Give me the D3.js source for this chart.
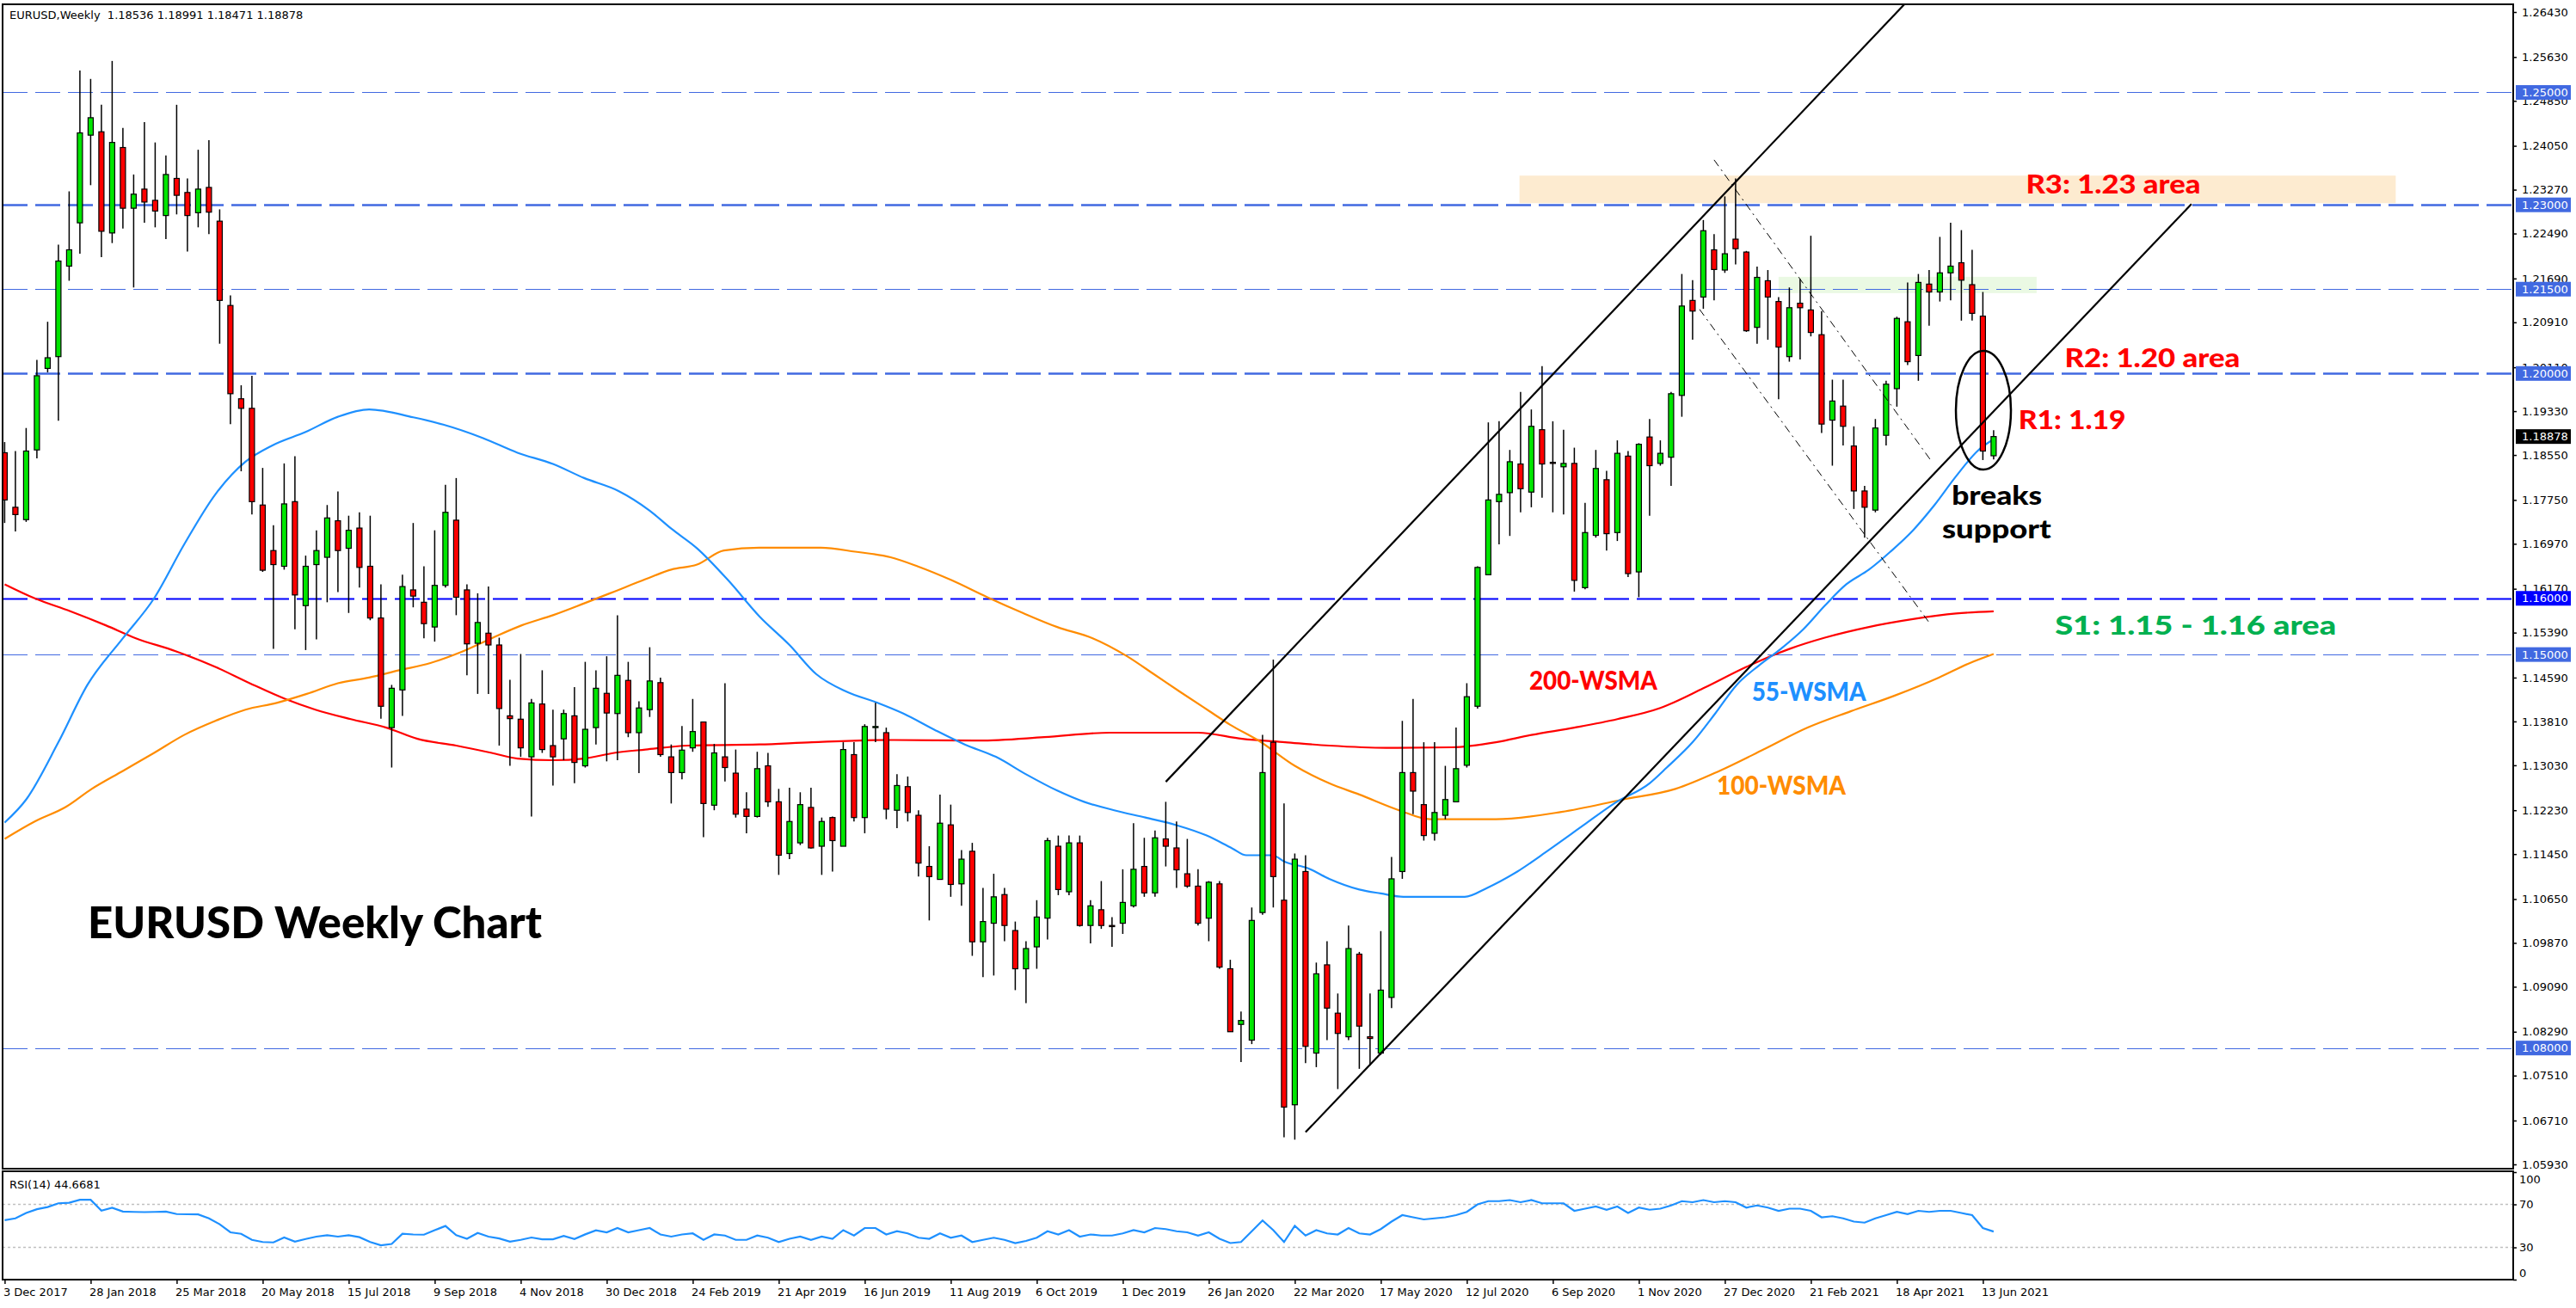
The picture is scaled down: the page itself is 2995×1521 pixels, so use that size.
<!DOCTYPE html>
<html><head><meta charset="utf-8">
<script src="https://cdn.jsdelivr.net/npm/d3@7"></script>
<style>html,body{margin:0;padding:0;background:#fff}svg{display:block}</style>
</head><body>
<svg id="c" width="2995" height="1521"></svg>
<script>
// ---------- DATA ----------
const xLabels = ["3 Dec 2017","28 Jan 2018","25 Mar 2018","20 May 2018","15 Jul 2018","9 Sep 2018","4 Nov 2018","30 Dec 2018","24 Feb 2019","21 Apr 2019","16 Jun 2019","11 Aug 2019","6 Oct 2019","1 Dec 2019","26 Jan 2020","22 Mar 2020","17 May 2020","12 Jul 2020","6 Sep 2020","1 Nov 2020","27 Dec 2020","21 Feb 2021","18 Apr 2021","13 Jun 2021"];
const yTicks = [1.2643,1.2563,1.2485,1.2405,1.2327,1.2249,1.2169,1.2091,1.2011,1.1933,1.1855,1.1775,1.1697,1.1617,1.1539,1.1459,1.1381,1.1303,1.1223,1.1145,1.1065,1.0987,1.0909,1.0829,1.0751,1.0671,1.0593];
const rsiTicks = [100,70,30,0];

const open = [1.1859,1.1762,1.1740,1.1864,1.2009,1.2030,1.2191,1.2268,1.2424,1.2430,1.2250,1.2402,1.2294,1.2328,1.2308,1.2281,1.2347,1.2322,1.2286,1.2331,
1.2271,1.2121,1.1955,1.1938,1.1766,1.1685,1.1657,1.1772,1.1587,1.1660,1.1673,1.1738,1.1689,1.1725,1.1657,1.1565,1.1370,1.1437,1.1615,1.1593,
1.1549,1.1623,1.1739,1.1615,1.1520,1.1538,1.1517,1.1391,1.1385,1.1318,1.1412,1.1338,1.1350,1.1391,1.1302,1.1370,1.1431,1.1395,1.1454,1.1361,
1.1402,1.1450,1.1318,1.1290,1.1334,1.1380,1.1232,1.1318,1.1289,1.1225,1.1212,1.1302,1.1238,1.1146,1.1165,1.1228,1.1159,1.1210,1.1159,1.1322,
1.1210,1.1370,1.1361,1.1223,1.1265,1.1214,1.1123,1.1100,1.1197,1.1092,1.1150,1.0989,1.1022,1.1073,1.1009,1.0941,1.0980,1.1031,1.1159,1.1078,
1.1165,1.1018,1.1046,1.1018,1.1022,1.1053,1.1123,1.1076,1.1172,1.1156,1.1110,1.1088,1.1031,1.1092,1.0941,1.0842,1.0814,1.1041,1.1344,1.1063,
1.0699,1.1114,1.0791,1.0948,1.0862,1.0820,1.0967,1.0820,1.0791,1.0890,1.1114,1.1290,1.1233,1.1182,1.1214,1.1238,1.1303,1.1408,1.1642,1.1772,
1.1788,1.1839,1.1789,1.1900,1.1842,1.1834,1.1840,1.1619,1.1712,1.1811,1.1717,1.1853,1.1647,1.1887,1.1840,1.1851,1.1961,1.2130,1.2136,1.2220,
1.2184,1.2239,1.2216,1.2082,1.2165,1.2128,1.2030,1.2125,1.2113,1.2069,1.1917,1.1942,1.1871,1.1791,1.1757,1.1890,1.1973,1.2092,1.2032,1.2159,
1.2145,1.2179,1.2197,1.2158,1.2102,1.18536];
const high = [1.1878,1.1862,1.1903,1.2024,1.2092,1.2229,1.2324,1.2539,1.2524,1.2478,1.2556,1.2437,1.2354,1.2447,1.2411,1.2388,1.2478,1.2347,1.2398,1.2415,
1.2292,1.2139,1.1979,1.1996,1.1832,1.1730,1.1840,1.1853,1.1676,1.1721,1.1766,1.1790,1.1747,1.1753,1.1747,1.1625,1.1446,1.1642,1.1734,1.1657,
1.1721,1.1802,1.1814,1.1625,1.1609,1.1621,1.1530,1.1455,1.1501,1.1421,1.1472,1.1402,1.1402,1.1442,1.1487,1.1472,1.1497,1.1570,1.1487,1.1417,
1.1513,1.1459,1.1340,1.1373,1.1421,1.1380,1.1341,1.1449,1.1331,1.1255,1.1327,1.1325,1.1261,1.1263,1.1255,1.1263,1.1210,1.1212,1.1344,1.1344,
1.1376,1.1414,1.1370,1.1287,1.1283,1.1223,1.1159,1.1251,1.1233,1.1152,1.1165,1.1085,1.1110,1.1085,1.1025,1.0990,1.1063,1.1174,1.1178,1.1178,
1.1178,1.1063,1.1097,1.1033,1.1118,1.1200,1.1174,1.1187,1.1238,1.1203,1.1172,1.1118,1.1097,1.1097,1.0957,1.0865,1.1050,1.1357,1.1491,1.1235,
1.1146,1.1143,1.0952,1.0990,1.0897,1.1018,1.0971,1.0897,1.1008,1.1140,1.1382,1.1421,1.1344,1.1344,1.1302,1.1370,1.1449,1.1657,1.1913,1.1915,
1.1864,1.1967,1.1936,1.2013,1.1915,1.1900,1.1868,1.1770,1.1864,1.1827,1.1881,1.1862,1.1876,1.1919,1.1881,1.1967,1.2177,1.2166,1.2273,1.2248,
1.2315,1.2347,1.2218,1.2190,1.2184,1.2136,1.2153,1.2168,1.2245,1.2111,1.1989,1.1989,1.1906,1.1800,1.1919,1.1987,1.2101,1.2162,1.2177,1.2184,
1.2243,1.2268,1.2255,1.2220,1.2145,1.18991];
const low = [1.1734,1.1719,1.1736,1.1849,1.2002,1.1916,1.2165,1.2213,1.2335,1.2207,1.2232,1.2258,1.2153,1.2268,1.2260,1.2239,1.2283,1.2217,1.2260,1.2248,
1.2053,1.1910,1.1826,1.1749,1.1647,1.1510,1.1651,1.1545,1.1508,1.1527,1.1593,1.1611,1.1574,1.1619,1.1561,1.1386,1.1299,1.1391,1.1584,1.1529,
1.1523,1.1619,1.1570,1.1463,1.1430,1.1430,1.1338,1.1302,1.1318,1.1212,1.1325,1.1267,1.1312,1.1271,1.1299,1.1340,1.1310,1.1312,1.1353,1.1289,
1.1389,1.1318,1.1235,1.1278,1.1327,1.1175,1.1223,1.1274,1.1210,1.1182,1.1210,1.1229,1.1108,1.1136,1.1161,1.1155,1.1108,1.1114,1.1159,1.1203,
1.1182,1.1344,1.1207,1.1191,1.1203,1.1105,1.1027,1.1100,1.1069,1.1053,1.0964,1.0926,1.0929,1.0990,1.0903,1.0880,1.0941,1.0993,1.1072,1.1072,
1.1016,1.0986,1.1012,1.0980,1.1003,1.1050,1.1069,1.1069,1.1123,1.1085,1.1085,1.1018,1.0990,1.0941,1.0829,1.0775,1.0807,1.1037,1.1050,1.0641,
1.0637,1.0773,1.0766,1.0814,1.0727,1.0814,1.0763,1.0769,1.0788,1.0871,1.1101,1.1216,1.1169,1.1169,1.1207,1.1238,1.1299,1.1404,1.1642,1.1696,
1.1711,1.1753,1.1762,1.1779,1.1753,1.1749,1.1612,1.1616,1.1708,1.1685,1.1702,1.1638,1.1602,1.1747,1.1836,1.1800,1.1923,1.2060,1.2115,1.2130,
1.2179,1.2194,1.2074,1.2053,1.2060,1.1954,1.2021,1.2025,1.2066,1.1894,1.1836,1.1872,1.1759,1.1708,1.1753,1.1872,1.1941,1.2015,1.1987,1.2085,
1.2128,1.2130,1.2094,1.2094,1.1846,1.18471];
const close = [1.1775,1.1749,1.1862,1.1996,1.2028,1.2200,1.2220,1.2428,1.2455,1.2253,1.2411,1.2294,1.2319,1.2305,1.2289,1.2354,1.2317,1.2281,1.2328,1.2287,
1.2130,1.1964,1.1938,1.1772,1.1650,1.1660,1.1768,1.1606,1.1657,1.1685,1.1743,1.1685,1.1721,1.1655,1.1565,1.1408,1.1440,1.1621,1.1604,1.1555,
1.1623,1.1753,1.1602,1.1519,1.1557,1.1517,1.1404,1.1386,1.1334,1.1414,1.1331,1.1318,1.1395,1.1308,1.1367,1.1440,1.1396,1.1463,1.1361,1.1405,
1.1453,1.1322,1.1290,1.1330,1.1363,1.1235,1.1325,1.1299,1.1216,1.1212,1.1297,1.1238,1.1143,1.1203,1.1233,1.1156,1.1203,1.1169,1.1331,1.1210,
1.1372,1.1372,1.1225,1.1267,1.1219,1.1129,1.1105,1.1200,1.1091,1.1136,1.0989,1.1025,1.1069,1.1018,1.0941,1.0977,1.1033,1.1169,1.1082,1.1165,
1.1018,1.1053,1.1018,1.1016,1.1059,1.1118,1.1076,1.1174,1.1159,1.1117,1.1088,1.1022,1.1095,1.0944,1.0829,1.0849,1.1027,1.1290,1.1105,1.0695,
1.1136,1.0803,1.0932,1.0871,1.0826,1.0977,1.0839,1.0817,1.0903,1.1101,1.1290,1.1257,1.1178,1.1219,1.1242,1.1297,1.1425,1.1655,1.1775,1.1785,
1.1843,1.1795,1.1906,1.1839,1.1840,1.1840,1.1632,1.1717,1.1831,1.1715,1.1858,1.1644,1.1874,1.1836,1.1858,1.1964,1.2120,1.2111,1.2254,1.2185,
1.2213,1.2222,1.2076,1.2171,1.2136,1.2047,1.2117,1.2117,1.2073,1.1910,1.1951,1.1906,1.1791,1.1762,1.1903,1.1981,1.2098,1.2021,1.2162,1.2145,
1.2179,1.2191,1.2166,1.2107,1.1862,1.18878];

// moving averages: [week index, value]
const ma55 = [[0,1.1201],[2,1.1242],[5,1.1344],[7.7,1.1446],[11,1.1529],[13.9,1.1600],[16.7,1.1696],[19.6,1.1785],[22.4,1.1843],[24.9,1.1872],[28,1.1896],[31,1.1923],[33.9,1.1936],[38,1.1922],[40.8,1.1909],[44.5,1.1885],[47.7,1.1859],[51,1.1839],[53.9,1.1814],[57.1,1.1791],[60,1.1756],[62,1.1724],[64.4,1.1689],[67.3,1.1632],[70.2,1.1568],[73,1.1517],[75.5,1.1465],[78.3,1.1434],[81.2,1.1414],[83.6,1.1395],[86.5,1.1366],[89.3,1.1340],[92.2,1.1318],[95,1.1287],[97.9,1.1258],[100.4,1.1238],[103.2,1.1223],[106.1,1.1210],[108.9,1.1197],[111.8,1.1178],[114.2,1.1155],[115.5,1.1143],[117.9,1.1143],[119.1,1.1131],[121.2,1.1120],[123.2,1.1101],[126,1.1082],[128,1.1075],[130.1,1.1069],[132.6,1.1069],[135.8,1.1069],[137.9,1.1085],[140.7,1.1114],[143.6,1.1152],[146.9,1.1197],[149.7,1.1235],[153,1.1271],[154.6,1.1299],[157,1.1344],[159.1,1.1395],[161.1,1.1446],[163.2,1.1481],[165.2,1.1510],[167.3,1.1545],[169.3,1.1587],[171.3,1.1625],[173.4,1.1651],[175.4,1.1683],[177.5,1.1721],[179.5,1.1766],[181.5,1.1817],[183.6,1.1864],[185,1.1883]];
const ma100 = [[0,1.1172],[2.8,1.1203],[5.7,1.1229],[8.1,1.1261],[11,1.1293],[13.9,1.1325],[16.7,1.1357],[19.6,1.1382],[22.4,1.1402],[25.3,1.1414],[28.1,1.1430],[31,1.1449],[33.9,1.1459],[36.7,1.1472],[39.6,1.1485],[42.4,1.1504],[45.3,1.1529],[48.1,1.1552],[51,1.1570],[53.9,1.1591],[56.7,1.1612],[59.6,1.1634],[62,1.1651],[64.4,1.1660],[66.9,1.1685],[70.2,1.1690],[75.9,1.1690],[79.1,1.1683],[82.4,1.1673],[84.9,1.1657],[88.1,1.1632],[91.4,1.1602],[94.7,1.1574],[97.9,1.1549],[101.2,1.1529],[104.4,1.1497],[106.9,1.1465],[109.3,1.1434],[112,1.1400],[114,1.1375],[116.7,1.1346],[120,1.1302],[123.2,1.1271],[126,1.1251],[129.7,1.1223],[132.6,1.1207],[138.7,1.1207],[144.8,1.1220],[150.5,1.1242],[155.4,1.1261],[159.5,1.1293],[163.6,1.1331],[167.7,1.1370],[171.7,1.1399],[175.8,1.1427],[179.9,1.1459],[182.8,1.1485],[185,1.1501]];
const ma200 = [[0,1.1625],[2.8,1.1600],[6.1,1.1577],[9.4,1.1552],[12.2,1.1529],[15.9,1.1506],[19.6,1.1478],[22.8,1.1449],[26.1,1.1421],[28.9,1.1402],[32.2,1.1385],[35.5,1.1370],[38.4,1.1350],[42,1.1338],[45.3,1.1325],[47.7,1.1315],[51,1.1312],[53.9,1.1315],[56.7,1.1325],[59.6,1.1331],[63.6,1.1338],[70.2,1.1340],[75.1,1.1344],[82.4,1.1348],[90.6,1.1347],[96.7,1.1353],[102.8,1.1361],[111,1.1361],[115.1,1.1350],[119.1,1.1344],[123.2,1.1338],[128.5,1.1334],[134.6,1.1335],[138.7,1.1344],[142,1.1357],[146,1.1370],[150,1.1385],[154,1.1405],[158,1.1440],[162,1.1478],[166,1.1510],[169.3,1.1530],[173.4,1.1549],[177.5,1.1563],[181.5,1.1573],[185,1.1577]];

const rsi = [55.3,57,62,65.5,67.5,71,71.5,74.3,74.3,64.1,66.8,63.3,63,62.8,63,63.3,61,60.8,60.7,57,
51.5,44,42.6,37,35,34.6,39.2,35.4,37.8,40,41.3,40,41.3,39.5,35,31.9,33.2,42.6,42,41.8,
46,49.9,41.3,38,43.4,40,38.3,35.4,37,39.2,37.5,37.5,40.7,37.8,42.1,45.9,44,48,44,46,
48,42,40,42,43,37,42,41,37,37,41,39,35,38,40,37,40,38,46,41,
48,48,42,45,43,39,38,43,39,41,35,37,39,37,34,36,39,45,42,46,
40,42,41,41,43,46,44,48,47,45,44,41,44,38,34,35,45,55,46,35,
50,41,46,43,42,48,43,42,47,54,60,58,56,57,58,60,63,70,73,73,
74,72,74,71,71,71,64,66,68,65,68,62,67,65,66,69,73,72,74,72,
73,72,67,69,67,64,66,66,64,58,59,57,54,53,57,60,63,61,64,63,
64,64,62,60,48,44.6681];

const levels = [1.25,1.23,1.215,1.20,1.16,1.15,1.08];
const lastPrice = 1.18878;
const header = "EURUSD,Weekly  1.18536 1.18991 1.18471 1.18878";

// annotation geometry in (week index, price)
const channelUpper = [[108.0,1.12736],[176.7,1.26568]];
const channelLower = [[121.0,1.06502],[203.4,1.23014]];
const dashUpper = [[159.0,1.2380],[179.25,1.1843]];
const dashLower = [[157.65,1.2114],[179.0,1.1557]];
const r3Zone = [140.9,222.4,1.2303,1.2352];
const greenZone = [165.0,189.0,1.2143,1.2172];
const circleAt = [184.05,1.19346];

// ---------- CHART ----------
const svg = d3.select("#c");
const L = 3, R = 2922, T = 5, B = 1359, RT = 1362, RB = 1488;
const x = d3.scaleLinear().domain([0,185]).range([5.4,2317.9]);
const y = d3.scaleLinear().domain([1.0593,1.2643]).range([1354,14]);
const yR = d3.scaleLinear().domain([0,100]).range([RB,RT+1]);
const FONT = "'DejaVu Sans', sans-serif";
const AFONT = "Lato, 'Open Sans', sans-serif";

const defs = svg.append("defs");
defs.append("clipPath").attr("id","mc").append("rect").attr("x",L).attr("y",T).attr("width",R-L).attr("height",B-T);
defs.append("clipPath").attr("id","rc").append("rect").attr("x",L).attr("y",RT).attr("width",R-L).attr("height",RB-RT);

const g = svg.append("g").attr("clip-path","url(#mc)");

// zones
g.append("rect").attr("x",x(r3Zone[0])).attr("width",x(r3Zone[1])-x(r3Zone[0]))
 .attr("y",y(r3Zone[3])).attr("height",y(r3Zone[2])-y(r3Zone[3])).attr("fill","#FDEBD0");
g.append("rect").attr("x",x(greenZone[0])).attr("width",x(greenZone[1])-x(greenZone[0]))
 .attr("y",y(greenZone[3])).attr("height",y(greenZone[2])-y(greenZone[3])).attr("fill","#EAF9E3");

// horizontal levels
const thick = new Set([1.23,1.20]);
g.selectAll("line.lvl").data(levels).join("line").attr("class","lvl")
 .attr("x1",L).attr("x2",R).attr("y1",d=>Math.round(y(d))+0.5).attr("y2",d=>Math.round(y(d))+0.5)
 .attr("stroke",d=>d===1.16?"#0000FF":"#4169E1")
 .attr("stroke-width",d=>thick.has(d)?2.5:(d===1.16?2:1))
 .attr("stroke-dasharray","29,9");

// moving averages
const maLine = d3.line().x(d=>x(d[0])).y(d=>y(d[1])).curve(d3.curveMonotoneX);
[[ma200,"#FF0000"],[ma100,"#FF8C00"],[ma55,"#1E90FF"]].forEach(([d,c])=>{
  g.append("path").attr("d",maLine(d)).attr("fill","none").attr("stroke",c).attr("stroke-width",2.2);
});

// candles
const idx = d3.range(open.length);
g.selectAll("line.wick").data(idx).join("line").attr("class","wick")
 .attr("x1",i=>x(i)).attr("x2",i=>x(i)).attr("y1",i=>y(high[i])).attr("y2",i=>y(low[i]))
 .attr("stroke","#000").attr("stroke-width",1.5);
g.selectAll("rect.body").data(idx).join("rect").attr("class","body")
 .attr("x",i=>x(i)-3).attr("width",6)
 .attr("y",i=>y(Math.max(open[i],close[i])))
 .attr("height",i=>Math.max(1,Math.abs(y(open[i])-y(close[i]))))
 .attr("fill",i=>close[i]>=open[i]?"#00E600":"#FF0000")
 .attr("stroke","#000").attr("stroke-width",1.2);

// trend lines
const seg = d3.line().x(d=>x(d[0])).y(d=>y(d[1]));
[channelUpper,channelLower].forEach(d=>g.append("path").attr("d",seg(d)).attr("stroke","#000").attr("stroke-width",2.2).attr("fill","none"));
[dashUpper,dashLower].forEach(d=>g.append("path").attr("d",seg(d)).attr("stroke","#000").attr("stroke-width",1).attr("stroke-dasharray","9,5,2,5").attr("fill","none"));

// ellipse
g.append("ellipse").attr("cx",x(circleAt[0])).attr("cy",y(circleAt[1])).attr("rx",32).attr("ry",69)
 .attr("fill","none").attr("stroke","#000").attr("stroke-width",2.5);

// annotation texts
const notes = [
 {t:"EURUSD Weekly Chart", i:7.73, p:1.09952, c:"#000", s:52, w:528},
 {t:"200-WSMA", i:141.8, p:1.14374, c:"#FF0000", s:31, w:149},
 {t:"55-WSMA", i:162.5, p:1.14175, c:"#1E90FF", s:31, w:133},
 {t:"100-WSMA", i:159.25, p:1.12507, c:"#FF8C00", s:31, w:150},
 {t:"R3: 1.23 area", i:188.0, p:1.23202, c:"#FF0000", s:31, w:203},
 {t:"R2: 1.20 area", i:191.6, p:1.20111, c:"#FF0000", s:31, w:204},
 {t:"R1: 1.19", i:187.3, p:1.1901, c:"#FF0000", s:31, w:125},
 {t:"breaks", i:181.1, p:1.17663, c:"#000", s:31, w:105},
 {t:"support", i:180.2, p:1.17066, c:"#000", s:31, w:127},
 {t:"S1: 1.15 - 1.16 area", i:190.7, p:1.15353, c:"#00B050", s:31, w:327}
];
svg.append("g").selectAll("text").data(notes).join("text")
 .attr("x",d=>x(d.i)).attr("y",d=>y(d.p)).text(d=>d.t)
 .attr("fill",d=>d.c).attr("font-family",AFONT).attr("font-weight",900)
 .attr("font-size",d=>d.s).attr("textLength",d=>d.w).attr("lengthAdjust","spacingAndGlyphs");

// RSI panel
const gr = svg.append("g").attr("clip-path","url(#rc)");
gr.selectAll("line.rl").data([70,30]).join("line").attr("x1",L).attr("x2",R)
 .attr("y1",d=>yR(d)).attr("y2",d=>yR(d)).attr("stroke","#C0C0C0").attr("stroke-width",1.5).attr("stroke-dasharray","3,3");
gr.append("path").attr("d",d3.line().x((d,i)=>x(i)).y(d=>yR(d))(rsi))
 .attr("fill","none").attr("stroke","#1E90FF").attr("stroke-width",2.2);
svg.append("text").attr("x",11).attr("y",1382).text("RSI(14) "+rsi[rsi.length-1].toFixed(4))
 .attr("font-family",FONT).attr("font-size",13);

// header
svg.append("text").attr("x",11).attr("y",22).text(header).attr("font-family",FONT).attr("font-size",13).attr("xml:space","preserve").style("white-space","pre");

// frames
svg.append("rect").attr("x",L).attr("y",T).attr("width",R-L).attr("height",B-T).attr("fill","none").attr("stroke","#000").attr("stroke-width",2);
svg.append("rect").attr("x",L).attr("y",RT).attr("width",R-L).attr("height",RB-RT).attr("fill","none").attr("stroke","#000").attr("stroke-width",2);

// price axis
const ya = svg.append("g").attr("transform",`translate(${R},0)`)
 .call(d3.axisRight(y).tickValues(yTicks).tickFormat(d3.format(".5f")).tickSize(4).tickSizeOuter(0).tickPadding(6));
ya.select(".domain").remove();
ya.selectAll("text").attr("font-family",FONT).attr("font-size",13).attr("fill","#000");
ya.selectAll("line").attr("stroke","#000").attr("stroke-width",1.5);

// rsi axis
const ra = svg.append("g").attr("transform",`translate(${R},0)`)
 .call(d3.axisRight(yR).tickValues(rsiTicks).tickSize(4).tickSizeOuter(0).tickPadding(3));
ra.select(".domain").remove();
ra.selectAll("text").attr("font-family",FONT).attr("font-size",13).attr("fill","#000")
 .attr("dy",d=>d===100?"0.95em":(d===0?"-0.3em":"0.32em"));
ra.selectAll("line").attr("stroke","#000").attr("stroke-width",1.5);

// level price boxes
const lb = svg.append("g").selectAll("g").data(levels).join("g").attr("transform",d=>`translate(2925,${y(d)})`);
lb.append("rect").attr("x",0).attr("y",-8.5).attr("width",64).attr("height",17).attr("fill",d=>d===1.16?"#0000FF":"#4169E1");
lb.append("text").attr("x",7).attr("dy","0.36em").text(d=>d.toFixed(5)).attr("fill","#fff").attr("font-family",FONT).attr("font-size",13);
const cp = svg.append("g").attr("transform",`translate(2925,${y(lastPrice)})`);
cp.append("rect").attr("y",-8.5).attr("width",64).attr("height",17).attr("fill","#000");
cp.append("text").attr("x",7).attr("dy","0.36em").text(lastPrice.toFixed(5)).attr("fill","#fff").attr("font-family",FONT).attr("font-size",13);

// time axis
const xa = svg.append("g").attr("transform",`translate(0,${RB})`)
 .call(d3.axisBottom(x).tickValues(d3.range(0,185,8)).tickFormat((d,k)=>xLabels[k]).tickSize(5).tickSizeOuter(0).tickPadding(5));
xa.select(".domain").remove();
xa.selectAll("text").attr("text-anchor","start").attr("dx",-2).attr("font-family",FONT).attr("font-size",13).attr("fill","#000");
xa.selectAll("line").attr("stroke","#000").attr("stroke-width",1.5);
</script>
</body></html>
